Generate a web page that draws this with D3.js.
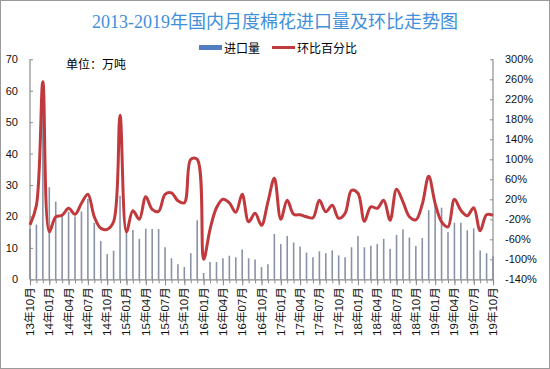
<!DOCTYPE html>
<html><head><meta charset="utf-8">
<script src="https://cdn.jsdelivr.net/npm/d3@7"></script>
<style>body{margin:0;background:#fff}svg{display:block}</style>
</head><body><svg id="c" width="550" height="369"></svg>
<script>
const title = "2013-2019年国内月度棉花进口量及环比走势图";
const seriesNames = ["进口量", "环比百分比"];
const unitLabel = "单位：万吨";
const months = [
 "13年10月","13年11月","13年12月",
 "14年01月","14年02月","14年03月","14年04月","14年05月","14年06月","14年07月","14年08月","14年09月","14年10月","14年11月","14年12月",
 "15年01月","15年02月","15年03月","15年04月","15年05月","15年06月","15年07月","15年08月","15年09月","15年10月","15年11月","15年12月",
 "16年01月","16年02月","16年03月","16年04月","16年05月","16年06月","16年07月","16年08月","16年09月","16年10月","16年11月","16年12月",
 "17年01月","17年02月","17年03月","17年04月","17年05月","17年06月","17年07月","17年08月","17年09月","17年10月","17年11月","17年12月",
 "18年01月","18年02月","18年03月","18年04月","18年05月","18年06月","18年07月","18年08月","18年09月","18年10月","18年11月","18年12月",
 "19年01月","19年02月","19年03月","19年04月","19年05月","19年06月","19年07月","19年08月","19年09月","19年10月"
];
// 进口量 (万吨)
const imports = [
 16, 17.4, 60,
 29.3, 24.7, 20, 21.5, 20, 21.6, 25.6, 18, 12.2, 8, 9.1, 26.6,
 15, 15.7, 12.9, 16.1, 16, 16, 10.2, 6.7, 4.8, 3.9, 8.3, 18.8,
 2, 5.5, 5.5, 6.7, 7.5, 7, 9.5, 6.7, 6.3, 3.9, 4.8, 14.4,
 11.2, 13.8, 11.7, 10.4, 8.5, 7, 8.9, 8.3, 9.2, 7.6, 7, 10.2,
 13.8, 10.2, 10.7, 11.2, 12.9, 9.7, 14.1, 15.9, 13.3, 10.6, 13.1, 22,
 25, 22.8, 15, 18, 18, 15.6, 16.2, 9.2, 8.3, 7.3
];
// 环比百分比 (%)
const momPct = [
 -31, 8, 255,
 -45, -15, -12, 2, -10, 12, 30, -15, -38, -40, -25, 188,
 -45, -3, -20, 25, 0, -4, 30, 33, 17, 13, 100, 100,
 -100, -40, 3, 20, 13, -6, 30, -25, -8, -32, 15, 62,
 -20, 18, -10, -11, -15, -17, 18, -5, 8, -18, -8, 38,
 32, -24, 5, 2, 18, -22, 40, 15, -15, -21, 10, 66,
 12, -25, -35, 20, -2, -13, 3, -43, -11, -12
];
const leftTicks = [0, 10, 20, 30, 40, 50, 60, 70];
const rightTicks = [-140, -100, -60, -20, 20, 60, 100, 140, 180, 220, 260, 300];

const m = {l: 30, r: 493, t: 59.3, b: 279.3};
const numFont = "'Liberation Sans', Arial, 'Noto Sans CJK SC', sans-serif";
const cjkFont = "'Noto Sans CJK SC', sans-serif";
const svg = d3.select("#c");

svg.append("rect").attr("x", 0.5).attr("y", 0.5).attr("width", 549).attr("height", 368)
  .attr("fill", "#fff").attr("stroke", "#9a9a9a");

const x = d3.scalePoint().domain(months).range([m.l, m.r]);
const yL = d3.scaleLinear().domain([0, 70]).range([m.b, m.t]);
const yR = d3.scaleLinear().domain([-140, 300]).range([m.b, m.t]);

// title
svg.append("text").attr("x", 275).attr("y", 22).attr("text-anchor", "middle")
  .attr("dominant-baseline", "central")
  .attr("font-family", "'Liberation Serif', 'Noto Sans CJK SC', serif")
  .attr("font-size", 18).attr("fill", "#3f8fda").text(title);

// legend
const lg = svg.append("g").attr("font-family", cjkFont).attr("font-size", 12).attr("fill", "#000");
lg.append("rect").attr("x", 199).attr("y", 45).attr("width", 23).attr("height", 5).attr("fill", "#4f7fc0");
lg.append("text").attr("x", 224).attr("y", 47.5).attr("dominant-baseline", "central").text(seriesNames[0]);
lg.append("line").attr("x1", 272).attr("x2", 295).attr("y1", 47.5).attr("y2", 47.5)
  .attr("stroke", "#c0393d").attr("stroke-width", 3);
lg.append("text").attr("x", 297).attr("y", 47.5).attr("dominant-baseline", "central").text(seriesNames[1]);

// unit label
svg.append("text").attr("x", 66).attr("y", 63).attr("dominant-baseline", "central")
  .attr("font-family", cjkFont).attr("font-size", 12).attr("fill", "#000").text(unitLabel);

// bars
svg.append("g").selectAll("rect").data(imports).join("rect")
  .attr("x", (d, i) => x(months[i]) - 0.8).attr("width", 1.6)
  .attr("y", d => yL(d)).attr("height", d => yL(0) - yL(d))
  .attr("fill", "#8a93a5");

// axes
const axisColor = "#8c8c8c";
const gL = svg.append("g").attr("transform", `translate(${m.l},0)`)
  .call(d3.axisLeft(yL).tickValues(leftTicks).tickSize(-3).tickPadding(12));
const gR = svg.append("g").attr("transform", `translate(${m.r},0)`)
  .call(d3.axisRight(yR).tickValues(rightTicks).tickSize(-3).tickPadding(12).tickFormat(d => d + "%"));
const gB = svg.append("g").attr("transform", `translate(0,${m.b})`)
  .call(d3.axisBottom(x).tickValues(months).tickSize(4).tickFormat(""));
const gB2 = svg.append("g").attr("transform", `translate(0,${m.b})`)
  .call(d3.axisBottom(x).tickValues(months.filter((d, i) => i % 3 === 0)).tickSize(6).tickFormat(""));
[gL, gR, gB, gB2].forEach(g => {
  g.select(".domain").attr("stroke", axisColor).attr("stroke-width", 1.2);
  g.selectAll(".tick line").attr("stroke", axisColor);
  g.selectAll("text").attr("font-family", numFont).attr("font-size", 11).attr("fill", "#111");
});
gL.select(".domain").attr("d", `M0,${m.t}V${m.b}`);
gR.select(".domain").attr("d", `M0,${m.t}V${m.b}`);
gB2.select(".domain").remove();

// x labels
svg.append("g").selectAll("text").data(months.filter((d, i) => i % 3 === 0)).join("text")
  .attr("transform", d => `translate(${x(d)},${m.b + 8}) rotate(-90)`)
  .attr("text-anchor", "end").attr("dominant-baseline", "central")
  .attr("font-family", numFont).attr("font-size", 11.5).attr("fill", "#111")
  .text(d => d);

// line
const line = d3.line().x((d, i) => x(months[i])).y(d => yR(d)).curve(d3.curveCatmullRom.alpha(0.5));
svg.append("path").datum(momPct).attr("d", line).attr("fill", "none")
  .attr("stroke", "#c0393d").attr("stroke-width", 3).attr("stroke-linejoin", "round");
</script></body></html>
